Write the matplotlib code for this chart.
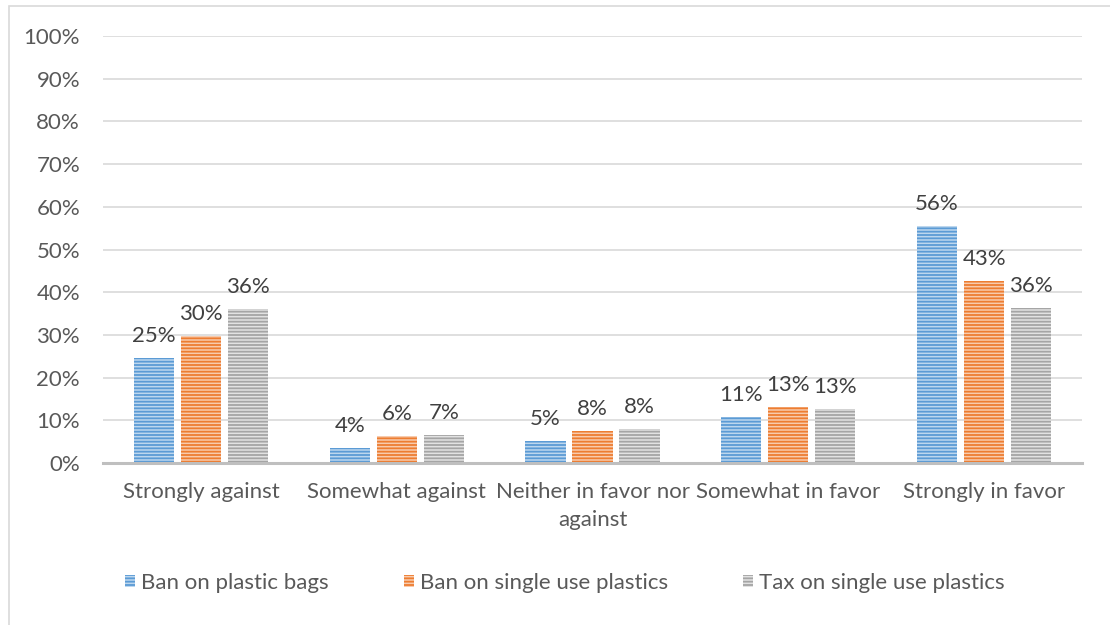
import matplotlib
matplotlib.use("Agg")
import matplotlib.pyplot as plt
from matplotlib.patches import Rectangle
import numpy as np

categories = ["Strongly against", "Somewhat against", "Neither in favor nor\nagainst",
              "Somewhat in favor", "Strongly in favor"]
series_names = ["Ban on plastic bags", "Ban on single use plastics", "Tax on single use plastics"]
ban_bags = [0.247, 0.036, 0.052, 0.108, 0.556]
ban_single = [0.297, 0.063, 0.076, 0.131, 0.427]
tax_single = [0.361, 0.066, 0.080, 0.126, 0.363]
yticks = [0.0, 0.1, 0.2, 0.3, 0.4, 0.5, 0.6, 0.7, 0.8, 0.9, 1.0]

main_colors = ["#5B9BD5", "#ED7D31", "#A5A5A5"]
light_colors = ["#BDD7EE", "#F8CBAD", "#E2E2E2"]

plt.rcParams['font.family'] = ['Lato', 'DejaVu Sans']
plt.rcParams['hatch.linewidth'] = 1.3

fig = plt.figure(figsize=(11.1, 6.25), dpi=100)
ax = fig.add_axes([103/1110, 1-463/625, (1082-103)/1110, (463-36)/625])

x = np.arange(len(categories))
bw = 0.205
step = 0.24
series = [ban_bags, ban_single, tax_single]
for i, (vals, name) in enumerate(zip(series, series_names)):
    pos = x + (i-1)*step
    ax.bar(pos, vals, bw, color=light_colors[i], edgecolor=main_colors[i],
           linewidth=0, hatch='-----', label=name, zorder=3)
    for p, v in zip(pos, vals):
        ax.text(p, v + 0.028, f"{round(v*100):.0f}%", ha='center', va='bottom',
                fontsize=16, color='#404040', zorder=4)

ax.set_xlim(-0.5, len(categories)-0.5)
ax.set_ylim(0, 1.0)
ax.set_yticks(yticks)
ax.set_yticklabels([f"{int(round(t*100))}%" for t in yticks])
ax.set_xticks(x)
ax.set_xticklabels(categories, linespacing=1.5)
ax.tick_params(axis='both', length=0, labelsize=16, colors='#595959')
ax.tick_params(axis='y', pad=16.5)
ax.tick_params(axis='x', pad=14)
ax.grid(axis='y', color='#D9D9D9', linewidth=1.2, zorder=0)
ax.set_axisbelow(True)
for s in ['top', 'right', 'left']:
    ax.spines[s].set_visible(False)
ax.spines['bottom'].set_color('#BFBFBF')
ax.spines['bottom'].set_linewidth(2.2)
ax.spines['bottom'].set_zorder(5)

leg = fig.legend(loc='center', bbox_to_anchor=(565/1110, 1-583/625), ncol=3, frameon=False,
                 fontsize=16, handlelength=0.45, handleheight=0.45, handletextpad=0.25,
                 columnspacing=3.4)
for t in leg.get_texts():
    t.set_color('#595959')

frame = Rectangle((9/1110, -0.1), 1.2, 1.1 - 6/625, transform=fig.transFigure,
                  fill=False, edgecolor='#D9D9D9', linewidth=1.2, clip_on=False)
fig.patches.append(frame)

fig.savefig("out.png", dpi=100, facecolor='white')
